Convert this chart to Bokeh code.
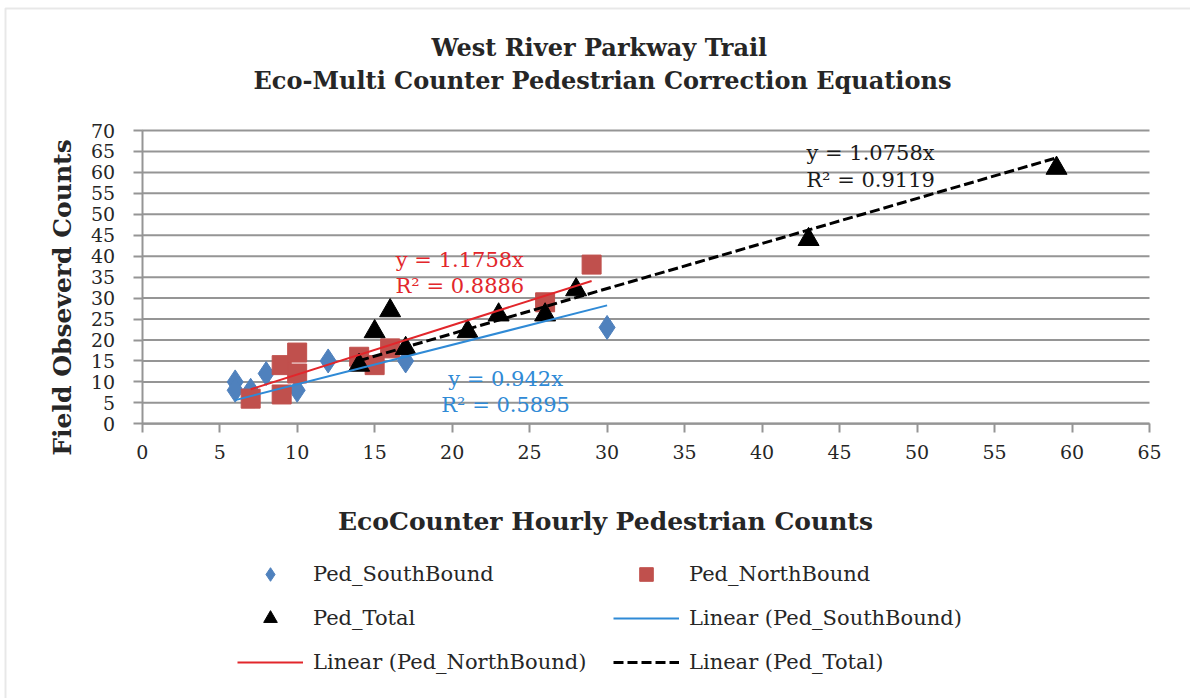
import numpy as np
from bokeh.plotting import figure
from bokeh.models import Range1d, FixedTicker, Legend, LegendItem, Label, LinearAxis, BoxAnnotation
from bokeh.embed import file_html
from bokeh.resources import INLINE

# ---- data ----
south_x = [6, 6, 7, 8, 10, 12, 17, 30]
south_y = [10, 8, 8, 12, 8, 15, 15, 23]
north_x = [7, 9, 9, 10, 10, 14, 15, 16, 26, 29]
north_y = [6, 14, 7, 17, 12, 16, 14, 18, 29, 38]
total_x = [14, 15, 16, 17, 21, 23, 26, 28, 43, 59]
total_y = [14, 22, 27, 18, 22, 26, 26, 32, 44, 61]

# trendline equations (zero intercept) shown on the chart
slope_south, r2_south = 0.942, 0.5895
slope_north, r2_north = 1.1758, 0.8886
slope_total, r2_total = 1.0758, 0.9119

x_ticks = list(range(0, 66, 5))
y_ticks = list(range(0, 71, 5))

title_lines = ["West River Parkway  Trail", "Eco-Multi Counter Pedestrian Correction Equations"]
x_title = "EcoCounter Hourly Pedestrian Counts"
y_title = "Field Obseverd Counts"

# ---- colours ----
C_S = "#4F81BD"
C_N = "#C0504D"
C_SL = "#2F8AD6"
C_NL = "#E2262B"
GRID = "#959595"
TXT = "#262626"

# ---- layout: the frame is the whole canvas; the plot area sits inside it ----
W, H = 1190, 698
PX0, PX1 = 141.7, 1149.0     # canvas columns of the x-axis ends
PY0, PY1 = 423.3, 130.0      # canvas rows of the y-axis ends
kx = (PX1 - PX0) / (x_ticks[-1] - x_ticks[0])
ky = (PY0 - PY1) / (y_ticks[-1] - y_ticks[0])
xmin = x_ticks[0] - PX0 / kx
xmax = xmin + W / kx
ymax = y_ticks[-1] + PY1 / ky
ymin = ymax - H / ky

p = figure(width=W, height=H, output_backend="svg", toolbar_location=None,
           x_range=Range1d(xmin, xmax), y_range=Range1d(ymin, ymax),
           x_axis_type=None, y_axis_type=None, min_border=0)
p.outline_line_color = None
p.background_fill_color = "white"
p.border_fill_color = "white"

# chart-area border
p.add_layout(BoxAnnotation(left=5, right=W + 10, top=H - 8, bottom=-10,
                           left_units="screen", right_units="screen",
                           top_units="screen", bottom_units="screen",
                           fill_alpha=0, line_color="#b4b4b4", line_width=2))

# gridlines
p.segment(x0=[x_ticks[0]] * len(y_ticks), x1=[x_ticks[-1]] * len(y_ticks),
          y0=y_ticks, y1=y_ticks, line_color=GRID, line_width=2, level="underlay")

xaxis = LinearAxis(fixed_location=0, bounds=(x_ticks[0], x_ticks[-1]), ticker=FixedTicker(ticks=x_ticks))
yaxis = LinearAxis(fixed_location=0, bounds=(y_ticks[0], y_ticks[-1]), ticker=FixedTicker(ticks=y_ticks))
for ax in (xaxis, yaxis):
    ax.axis_line_color = GRID
    ax.axis_line_width = 2
    ax.major_tick_line_color = GRID
    ax.major_tick_line_width = 2
    ax.major_tick_out = 9
    ax.major_tick_in = 0
    ax.minor_tick_line_color = None
    ax.major_label_text_font = "DejaVu Serif"
    ax.major_label_text_font_size = "19px"
    ax.major_label_text_color = TXT
yaxis.major_label_standoff = 18
xaxis.major_label_standoff = 12
p.add_layout(xaxis, "below")
p.add_layout(yaxis, "left")

# ---- markers ----
r_s = p.scatter(south_x, south_y, marker="diamond", size=24, fill_color=C_S, line_color=C_S)
r_n = p.scatter(north_x, north_y, marker="square", size=19, fill_color=C_N, line_color=C_N)
r_t = p.scatter(total_x, total_y, marker="triangle", size=21, fill_color="black", line_color="black")

# ---- trendlines (from the chart's equations, over each series' x extent) ----
def span(xs):
    return [min(xs), max(xs)]

sxs, nxs, txs = span(south_x), span(north_x), span(total_x)
l_s = p.line(sxs, [slope_south * v for v in sxs], line_color=C_SL, line_width=2)
l_n = p.line(nxs, [slope_north * v for v in nxs], line_color=C_NL, line_width=2)
l_t = p.line(txs, [slope_total * v for v in txs], line_color="black", line_width=3, line_dash="10 4")

# ---- trendline labels ----
def eq_label(text, x, y, color):
    p.add_layout(Label(x=x, y=y, text=text, text_align="center", text_baseline="middle",
                       text_font="DejaVu Serif", text_font_size="21px", text_color=color))

eq_label(f"y = {slope_north}x", 20.5, 39.2, C_NL)
eq_label(f"R² = {r2_north}", 20.5, 33.0, C_NL)
eq_label(f"y = {slope_south}x", 23.45, 10.8, C_SL)
eq_label(f"R² = {r2_south}", 23.45, 4.4, C_SL)
eq_label(f"y = {slope_total}x", 47.0, 64.6, "#1a1a1a")
eq_label(f"R² = {r2_total}", 47.0, 58.1, "#1a1a1a")

# ---- titles (screen px from the canvas' bottom-left) ----
def scr_label(text, cx, cy, size, angle=0.0):
    p.add_layout(Label(x=cx, y=H - cy, x_units="screen", y_units="screen", text=text,
                       text_align="center", text_baseline="middle", angle=angle,
                       text_font="DejaVu Serif", text_font_style="bold",
                       text_font_size=size, text_color=TXT))

scr_label(title_lines[0], 603, 47, "24px")
scr_label(title_lines[1], 602, 80, "24px")
scr_label(x_title, 605, 521, "25px")
scr_label(y_title, 62, 297, "25px", angle=np.pi / 2)

# ---- legend ----
legend = Legend(items=[
    LegendItem(label="Ped_SouthBound", renderers=[r_s]),
    LegendItem(label="Ped_NorthBound", renderers=[r_n]),
    LegendItem(label="Ped_Total", renderers=[r_t]),
    LegendItem(label="Linear (Ped_SouthBound)", renderers=[l_s]),
    LegendItem(label="Linear (Ped_NorthBound)", renderers=[l_n]),
    LegendItem(label="Linear (Ped_Total)", renderers=[l_t]),
], location=(237, 19), orientation="horizontal", ncols=2)
legend.label_text_font = "DejaVu Serif"
legend.label_text_font_size = "21px"
legend.label_text_color = TXT
legend.background_fill_alpha = 0
legend.border_line_color = None
legend.padding = 0
legend.margin = 0
legend.spacing = 10
legend.glyph_width = 66
legend.glyph_height = 34
legend.label_standoff = 10
legend.label_width = 290
p.add_layout(legend)

open("out.html", "w").write(file_html(p, INLINE))
